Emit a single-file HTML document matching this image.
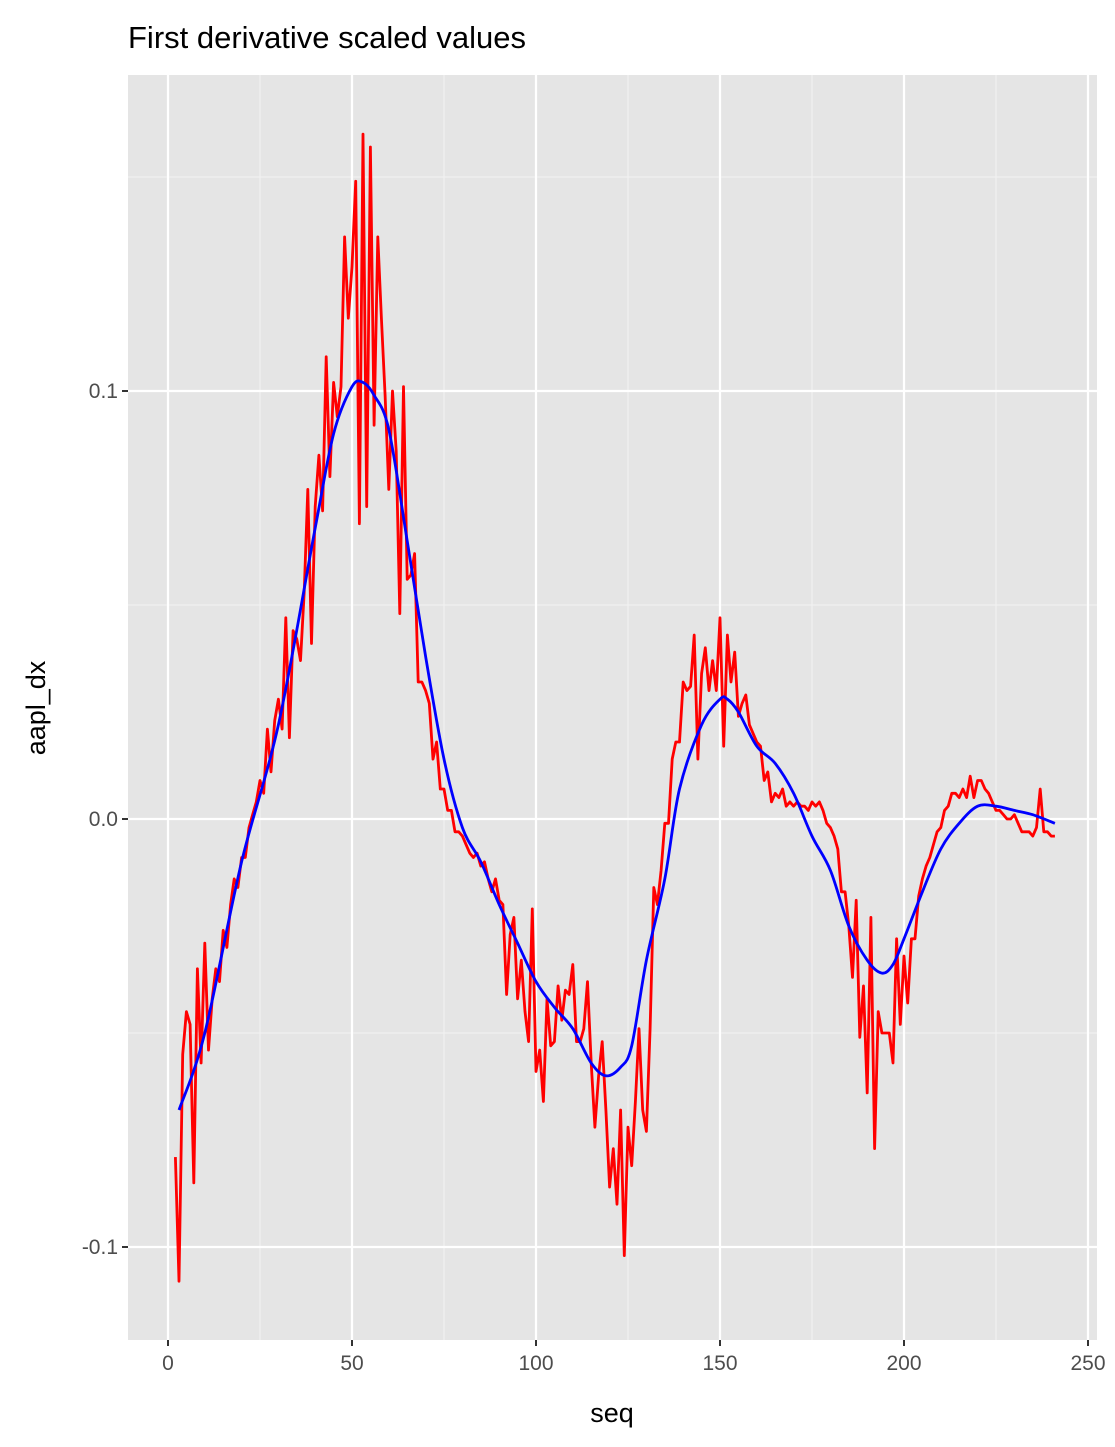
<!DOCTYPE html>
<html><head><meta charset="utf-8"><style>
body{margin:0;background:#fff;}
svg{display:block;font-family:"Liberation Sans",sans-serif;}
</style></head><body>
<svg id="chart" width="1115" height="1447" viewBox="0 0 1115 1447">
<rect width="1115" height="1447" fill="#fff"/>
<text x="128" y="48" font-size="31" fill="#000">First derivative scaled values</text>
<rect x="128" y="75" width="969" height="1265" fill="#e5e5e5"/>
<g id="grid"></g>
<g id="series"></g>
<g id="axes"></g>
<text x="612" y="1422" font-size="27" text-anchor="middle" fill="#000">seq</text>
<text transform="translate(45,708) rotate(-90)" font-size="27" text-anchor="middle" fill="#000">aapl_dx</text>
</svg>
<script>
const seqStart = 2;
const redValues = [-0.079,-0.108,-0.055,-0.045,-0.048,-0.085,-0.035,-0.057,-0.029,-0.054,-0.042,-0.035,-0.038,-0.026,-0.030,-0.020,-0.014,-0.016,-0.009,-0.009,-0.002,0.001,0.004,0.009,0.006,0.021,0.011,0.023,0.028,0.021,0.047,0.019,0.044,0.042,0.037,0.053,0.077,0.041,0.073,0.085,0.072,0.108,0.080,0.102,0.094,0.101,0.136,0.117,0.129,0.149,0.069,0.160,0.073,0.157,0.092,0.136,0.117,0.099,0.077,0.100,0.086,0.048,0.101,0.056,0.057,0.062,0.032,0.032,0.030,0.027,0.014,0.018,0.007,0.007,0.002,0.002,-0.003,-0.003,-0.004,-0.006,-0.008,-0.009,-0.008,-0.011,-0.010,-0.014,-0.017,-0.014,-0.019,-0.020,-0.041,-0.027,-0.023,-0.042,-0.033,-0.045,-0.052,-0.021,-0.059,-0.054,-0.066,-0.042,-0.053,-0.052,-0.039,-0.047,-0.040,-0.041,-0.034,-0.052,-0.052,-0.049,-0.038,-0.057,-0.072,-0.060,-0.052,-0.068,-0.086,-0.077,-0.090,-0.068,-0.102,-0.072,-0.081,-0.066,-0.049,-0.068,-0.073,-0.049,-0.016,-0.020,-0.012,-0.001,-0.001,0.014,0.018,0.018,0.032,0.030,0.031,0.043,0.014,0.034,0.040,0.030,0.037,0.030,0.047,0.017,0.043,0.032,0.039,0.024,0.027,0.029,0.022,0.020,0.018,0.017,0.009,0.011,0.004,0.006,0.005,0.007,0.003,0.004,0.003,0.004,0.003,0.003,0.002,0.004,0.003,0.004,0.002,-0.001,-0.002,-0.004,-0.007,-0.017,-0.017,-0.025,-0.037,-0.019,-0.051,-0.039,-0.064,-0.023,-0.077,-0.045,-0.050,-0.050,-0.050,-0.057,-0.028,-0.048,-0.032,-0.043,-0.028,-0.028,-0.018,-0.014,-0.011,-0.009,-0.006,-0.003,-0.002,0.002,0.003,0.006,0.006,0.005,0.007,0.005,0.010,0.005,0.009,0.009,0.007,0.006,0.004,0.002,0.002,0.001,0.000,0.000,0.001,-0.001,-0.003,-0.003,-0.003,-0.004,-0.002,0.007,-0.003,-0.003,-0.004,-0.004];
const smoothX = [3,10,20,30,40,45,50,53,56,60,65,70,75,80,85,90,95,100,105,110,115,119,123,126,130,135,139,145,150,152,155,160,165,170,175,180,185,190,194,197,200,205,210,215,220,225,230,235,241];
const smoothY = [-0.068,-0.050,-0.010,0.022,0.068,0.090,0.101,0.102,0.099,0.091,0.065,0.038,0.014,-0.002,-0.010,-0.020,-0.029,-0.038,-0.044,-0.049,-0.057,-0.060,-0.058,-0.053,-0.033,-0.014,0.007,0.022,0.028,0.028,0.025,0.017,0.013,0.006,-0.004,-0.012,-0.025,-0.033,-0.036,-0.034,-0.028,-0.017,-0.007,-0.001,0.003,0.003,0.002,0.001,-0.001];
const xTicks = [0,50,100,150,200,250];
const xMinor = [25,75,125,175,225];
const yTicks = [0.1,0.0,-0.1];
const yTickLabels = ["0.1","0.0","-0.1"];
const yMinor = [0.15,0.05,-0.05];

const NS="http://www.w3.org/2000/svg";
const PL=128,PR=1097,PT=75,PB=1340;
const sx=v=>168+v*(904-168)/200;
const sy=v=>819-v*4280;
function mk(tag,attrs,parent){const e=document.createElementNS(NS,tag);for(const k in attrs)e.setAttribute(k,attrs[k]);parent.appendChild(e);return e;}
const grid=document.getElementById('grid'),axes=document.getElementById('axes'),series=document.getElementById('series');
xMinor.forEach(v=>{const l=mk('line',{x1:sx(v),x2:sx(v),y1:PT,y2:PB,stroke:'#f2f2f2','stroke-width':1.1},grid);

});
yMinor.forEach(v=>{const l=mk('line',{x1:PL,x2:PR,y1:sy(v),y2:sy(v),stroke:'#f2f2f2','stroke-width':1.1},grid);

});
xTicks.forEach(v=>{const l=mk('line',{x1:sx(v),x2:sx(v),y1:PT,y2:PB,stroke:'#fff','stroke-width':2.2},grid);


const t=mk('line',{x1:sx(v),x2:sx(v),y1:PB,y2:PB+6,stroke:'#333','stroke-width':2},axes);


const tx=mk('text',{x:sx(v),y:PB+30,'font-size':21,'text-anchor':'middle',fill:'#4d4d4d'},axes);tx.textContent=v;

});
yTicks.forEach((v,i)=>{const l=mk('line',{x1:PL,x2:PR,y1:sy(v),y2:sy(v),stroke:'#fff','stroke-width':2.2},grid);


const t=mk('line',{x1:PL-6,x2:PL,y1:sy(v),y2:sy(v),stroke:'#333','stroke-width':2},axes);


const tx=mk('text',{x:PL-10,y:sy(v)+7,'font-size':21,'text-anchor':'end',fill:'#4d4d4d'},axes);tx.textContent=yTickLabels[i];

});
const redPts=redValues.map((v,i)=>sx(seqStart+i).toFixed(1)+','+sy(v).toFixed(1)).join(' ');
const red=mk('polyline',{points:redPts,fill:'none',stroke:'#ff0000','stroke-width':2.8,'stroke-linejoin':'round'},series);


const P=smoothX.map((x,i)=>[sx(x),sy(smoothY[i])]);
let d='M'+P[0][0].toFixed(1)+','+P[0][1].toFixed(1);
for(let i=0;i<P.length-1;i++){const p0=P[Math.max(0,i-1)],p1=P[i],p2=P[i+1],p3=P[Math.min(P.length-1,i+2)];
const c1=[p1[0]+(p2[0]-p0[0])/6,p1[1]+(p2[1]-p0[1])/6],c2=[p2[0]-(p3[0]-p1[0])/6,p2[1]-(p3[1]-p1[1])/6];
d+=' C'+c1[0].toFixed(1)+','+c1[1].toFixed(1)+' '+c2[0].toFixed(1)+','+c2[1].toFixed(1)+' '+p2[0].toFixed(1)+','+p2[1].toFixed(1);}
const blue=mk('path',{d:d,fill:'none',stroke:'#0000ff','stroke-width':2.8,'stroke-linejoin':'round'},series);


</script>
</body></html>
